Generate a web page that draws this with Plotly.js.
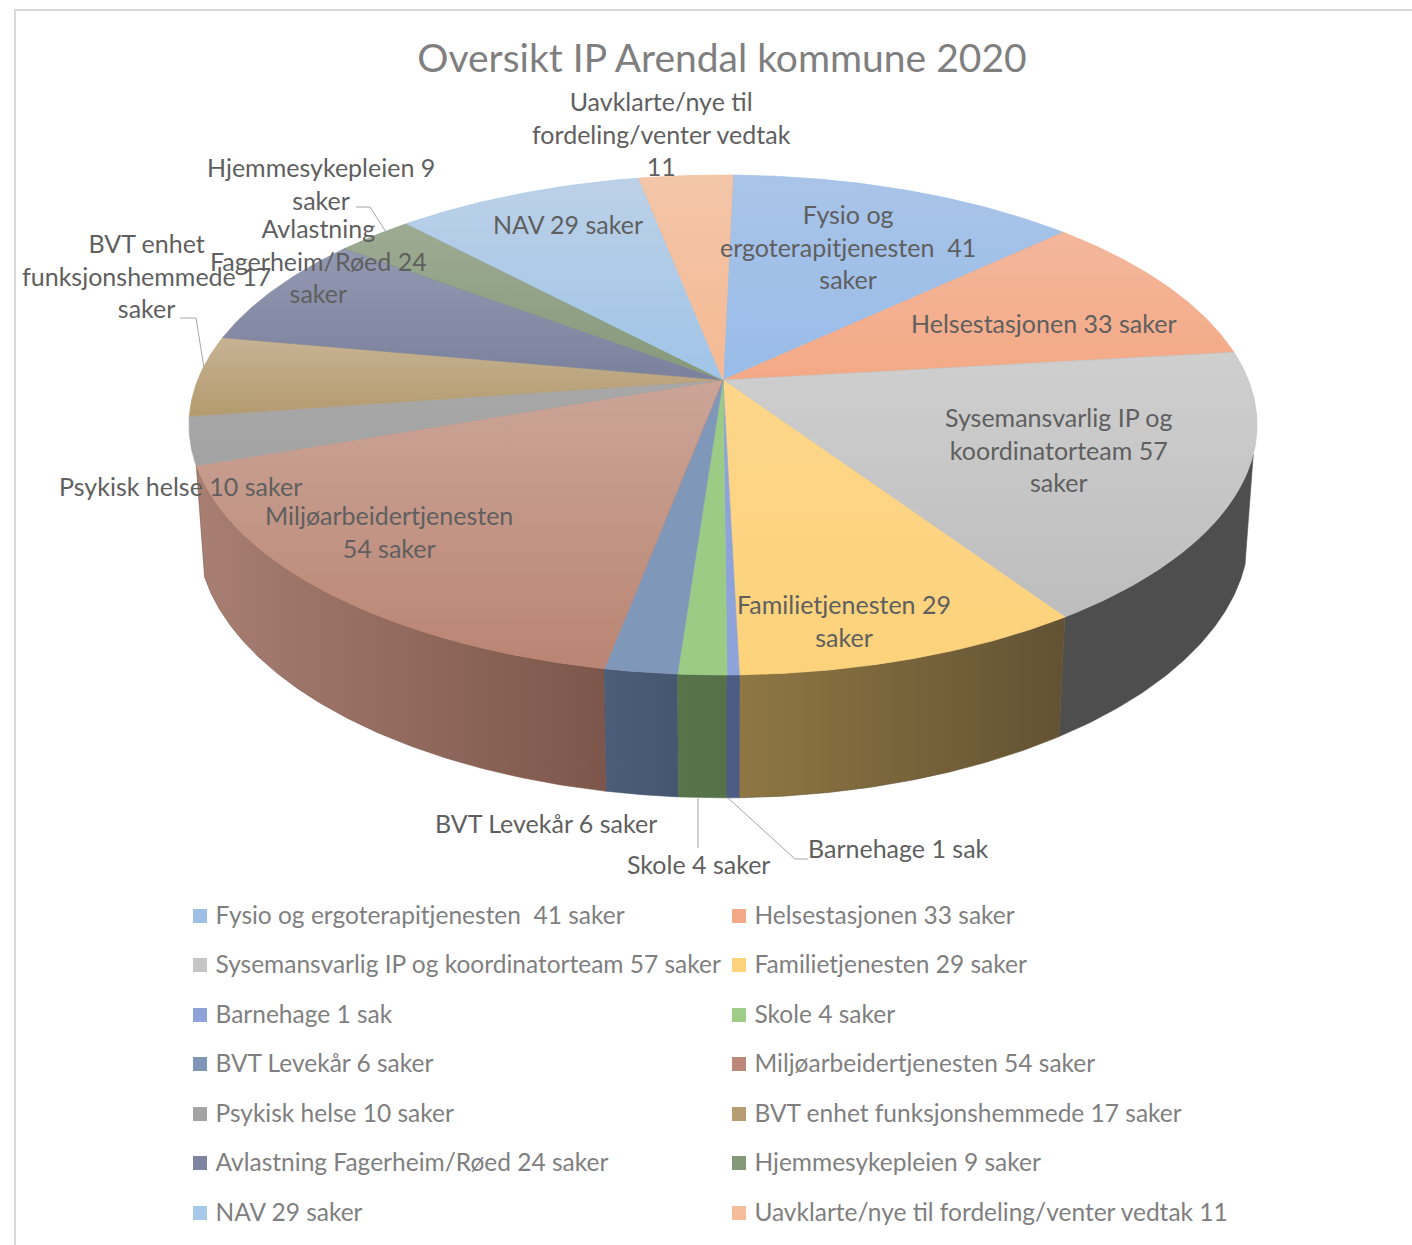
<!DOCTYPE html>
<html>
<head>
<meta charset="utf-8">
<script src="https://cdn.plot.ly/plotly-3.0.1.min.js"></script>
<style>html,body{margin:0;padding:0;background:#fff}#chart{width:1412px;height:1245px}</style>
</head>
<body>
<div id="chart"></div>
<script>
// Saker per tjeneste, IP Arendal kommune 2020
const categories = [
  "Fysio og ergoterapitjenesten  41 saker", "Helsestasjonen 33 saker",
  "Sysemansvarlig IP og koordinatorteam 57 saker", "Familietjenesten 29 saker",
  "Barnehage 1 sak", "Skole 4 saker", "BVT Levekår 6 saker",
  "Miljøarbeidertjenesten 54 saker", "Psykisk helse 10 saker",
  "BVT enhet funksjonshemmede 17 saker", "Avlastning Fagerheim/Røed 24 saker",
  "Hjemmesykepleien 9 saker", "NAV 29 saker",
  "Uavklarte/nye til fordeling/venter vedtak 11"
];
const saker = [41, 33, 57, 29, 1, 4, 6, 54, 10, 17, 24, 9, 29, 11];
const sliceLabels = [
  "Fysio og<br>ergoterapitjenesten  41<br>saker", "Helsestasjonen 33 saker",
  "Sysemansvarlig IP og<br>koordinatorteam 57<br>saker", "Familietjenesten 29<br>saker",
  "Barnehage 1 sak", "Skole 4 saker", "BVT Levekår 6 saker",
  "Miljøarbeidertjenesten<br>54 saker", "Psykisk helse 10 saker",
  "BVT enhet<br>funksjonshemmede 17<br>saker", "Avlastning<br>Fagerheim/Røed 24<br>saker",
  "Hjemmesykepleien 9<br>saker", "NAV 29 saker",
  "Uavklarte/nye til<br>fordeling/venter vedtak<br>11"
];

// Colours of each slice: top face (far, near), rim (left, right), key swatch
const topFar  = ["#a9c4e8","#f3b79c","#cfcfcf","#fdd68a","#8da3d9","#9ccb85","#7f97b9","#cba598","#a8a8a8","#c6b394","#9499b2","#9eab93","#bcd1e7","#f3c6a8"];
const topNear = ["#98bce8","#f4a985","#bdbdbd","#fcd27a","#8da3d9","#9ccb85","#7f97b9","#ba8573","#a3a3a3","#b49a6e","#7b819c","#84997a","#a0c4e8","#f5b994"];
const rimLeft = ["#5a7196","#9a6c55","#4e4e4e","#8f7744","#4d5c85","#58734a","#4b5d78","#a87f72","#6a6a6a","#7a6a4c","#50556e","#5a6a50","#6a86a8","#a07a60"];
const rimRight= ["#5a7196","#9a6c55","#4e4e4e","#625233","#4d5c85","#567048","#455670","#7c564a","#6a6a6a","#7a6a4c","#50556e","#5a6a50","#6a86a8","#a07a60"];
const swatch  = ["#9dbfe6","#f4a888","#c6c6c6","#fdd27d","#8ea3d8","#9fcd88","#7f97b9","#bc8878","#a3a3a3","#b79d74","#7f84a3","#84997a","#a9c9ea","#f5bc99"];

// Perspective projection of the disc; values in page pixels
const CX = 723, CY = 380, A = 525.3, B = 241.9, PERSP = 0.18;
const THICK = 107, RECEDE = 0.015, START_DEG = 1.3;
// Rim walls are only seen between these bearings
const WALL_FROM = 107, WALL_TO = 250.4;

function project(deg, depth) {
  const t = deg * Math.PI / 180, u = Math.sin(t), v = -Math.cos(t);
  const w = 1 - PERSP * v + RECEDE * depth;
  return [CX + A * u / w, CY + (B * v + THICK * depth) / w];
}
function arc(from, to, depth) {
  const n = Math.max(2, Math.ceil((to - from) / 0.5)), pts = [];
  for (let i = 0; i <= n; i++) pts.push(project(from + (to - from) * i / n, depth));
  return pts;
}

const total = saker.reduce((a, b) => a + b, 0);
let running = 0;
const spans = saker.map(s => {
  const from = START_DEG + running / total * 360;
  running += s;
  return [from, START_DEG + running / total * 360];
});

const xAxisRange = [0, 1412], yAxisRange = [1245, 0];
const traces = [];

// Rim walls, painted from the far side toward the viewer
spans
  .map(([from, to], i) => ({from: Math.max(from, WALL_FROM), to: Math.min(to, WALL_TO), i}))
  .filter(s => s.to > s.from)
  .sort((a, b) => Math.abs((b.from + b.to) / 2 - 180) - Math.abs((a.from + a.to) / 2 - 180))
  .forEach(({from, to, i}) => {
    const ring = arc(from, to, 0).concat(arc(from, to, 1).reverse());
    ring.push(ring[0]);
    const xs = ring.map(p => p[0]);
    traces.push({
      type: "scatter", mode: "lines", x: xs, y: ring.map(p => p[1]),
      fill: "toself", hoverinfo: "skip", showlegend: false,
      line: {width: 0.6, color: rimRight[i]},
      fillgradient: {type: "horizontal", start: Math.min(...xs), stop: Math.max(...xs),
        colorscale: [[0, rimLeft[i]], [1, rimRight[i]]]}
    });
  });

// Top faces
spans.forEach(([from, to], i) => {
  const pts = [[CX, CY]].concat(arc(from, to, 0));
  pts.push([CX, CY]);
  const ys = pts.map(p => p[1]);
  traces.push({
    type: "scatter", mode: "lines", x: pts.map(p => p[0]), y: ys,
    fill: "toself", hoverinfo: "skip", showlegend: false,
    line: {width: 0.6, color: topNear[i]},
    fillgradient: {type: "vertical", start: Math.min(...ys), stop: Math.max(...ys),
      colorscale: [[0, topFar[i]], [1, topNear[i]]]}
  });
});

// Two-column key below the pie
const keyColX = [200, 739], keyRowY = [916, 965, 1015, 1064, 1114, 1163, 1213];
const keyX = categories.map((_, i) => keyColX[i % 2]);
const keyY = categories.map((_, i) => keyRowY[Math.floor(i / 2)]);
traces.push({
  type: "scatter", mode: "markers", hoverinfo: "skip", showlegend: false,
  x: keyX, y: keyY,
  marker: {symbol: "square", size: 14, color: swatch, line: {width: 0}}
});
traces.push({
  type: "scatter", mode: "text", hoverinfo: "skip", showlegend: false,
  x: keyX.map(x => x + 15.5), y: keyY.map(y => y + 2),
  text: categories, textposition: "middle right",
  textfont: {family: "Lato, sans-serif", size: 24.5, color: "#7f7f7f"}
});

// Where each slice label sits (centre x, centre y)
const labelAt = [[848,246],[1043,323],[1058,449],[844,620],[898,848],[698,864],[546,823],
                 [389,531],[180,486],[146,275],[318,260],[321,183],[568,224],[661,133]];
const annotations = sliceLabels.map((text, i) => ({
  text, x: labelAt[i][0], y: labelAt[i][1], xref: "x", yref: "y", showarrow: false,
  xanchor: "center", yanchor: "middle", align: "center",
  font: {family: "Lato, sans-serif", size: 25, color: "#5f5f5f"}
}));

// Leader lines from outside labels to their slices
const leaders = [
  [[356,207],[370,207],[386,232]],
  [[180,318],[196,318],[204,368]],
  [[698,797],[698,848]],
  [[728,798],[795,859],[808,859]]
];
const shapes = leaders.map(pts => ({
  type: "path", xref: "x", yref: "y", layer: "above",
  path: "M" + pts.map(p => p.join(",")).join("L"),
  line: {color: "#a6a6a6", width: 1}
}));
// Chart frame
shapes.unshift({type: "rect", xref: "x", yref: "y", x0: 15, y0: 10, x1: 1440, y1: 1270, layer: "below",
  line: {color: "#d9d9d9", width: 2}});

Plotly.newPlot("chart", traces, {
  width: 1412, height: 1245,
  margin: {l: 0, r: 0, t: 0, b: 0},
  paper_bgcolor: "#fff", plot_bgcolor: "#fff", showlegend: false,
  title: {text: "Oversikt IP Arendal kommune 2020", x: 722 / 1412, xanchor: "center",
    y: 1 - 58 / 1245, yanchor: "middle",
    font: {family: "Lato, sans-serif", size: 39, color: "#7f7f7f"}},
  xaxis: {range: xAxisRange, visible: false, fixedrange: true},
  yaxis: {range: yAxisRange, visible: false, fixedrange: true},
  annotations, shapes
}, {displayModeBar: false, staticPlot: true});
</script>
</body>
</html>
